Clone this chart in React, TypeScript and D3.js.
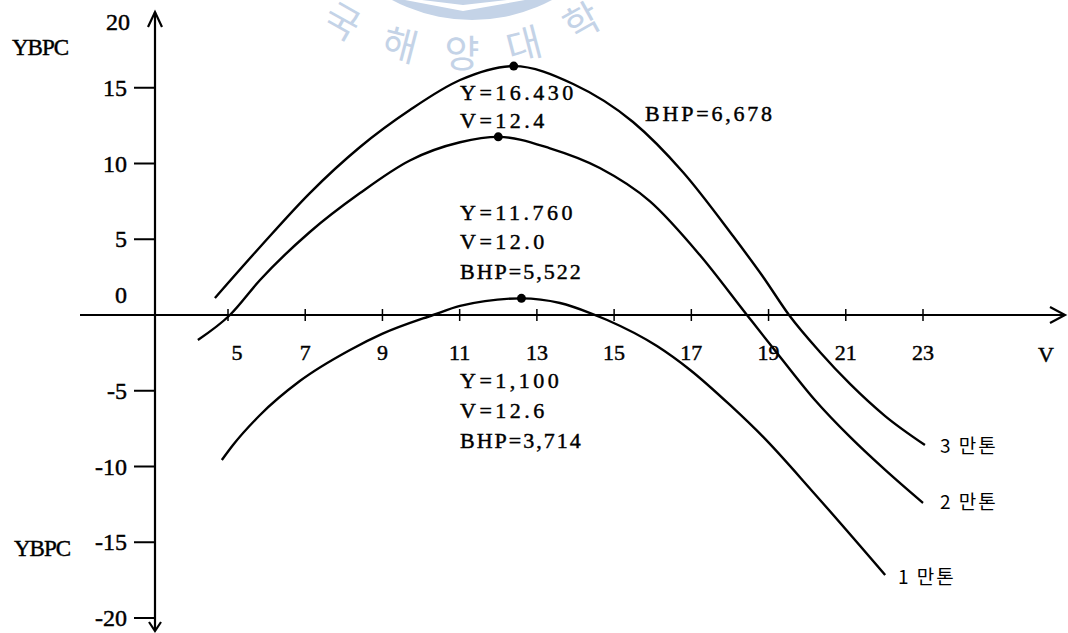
import React from "react";
import * as d3 from "d3";

// Speed V (knots) and YBPC values for each deadweight class
const v10k = [4.84, 5.13, 5.83, 6.86, 8.16, 8.99, 10.31, 11.01, 12.6, 13.6, 14.38, 14.82, 16.11, 16.97, 18.0, 18.86, 20.15, 22.02];
const y10k = [-9.57, -8.58, -6.6, -4.36, -2.31, -1.25, 0, 0.6, 1.1, 0.79, 0.13, -0.33, -2.05, -3.63, -5.94, -8.05, -11.68, -17.16];

const v20k = [4.22, 5.05, 5.83, 7.12, 8.42, 9.71, 11.01, 12.0, 13.34, 14.63, 15.93, 17.22, 18.44, 19.3, 20.2, 21.11, 22.02, 23.0];
const y20k = [-1.65, 0, 2.31, 5.48, 8.05, 10.2, 11.4, 11.76, 11.0, 9.7, 7.5, 3.96, 0, -2.77, -5.61, -8.05, -10.23, -12.41];

const v30k = [4.66, 5.83, 7.12, 8.42, 9.71, 11.01, 12.4, 13.94, 15.49, 16.78, 18.08, 18.86, 19.53, 20.33, 21.11, 22.02, 23.05];
const y30k = [1.12, 4.49, 8.05, 11.09, 13.53, 15.51, 16.43, 15.25, 12.74, 9.44, 5.21, 2.51, 0, -2.44, -4.55, -6.67, -8.58];

const seriesNames = ["1 만톤", "2 만톤", "3 만톤"];

// Optimum points
const peakV = [12.6, 12.0, 12.4];
const peakY = [1.1, 11.76, 16.43];
const peakYText = ["1,100", "11.760", "16.430"];
const peakVText = ["12.6", "12.0", "12.4"];
const bhpText = ["3,714", "5,522", "6,678"];

const xTicks = [5, 7, 9, 11, 13, 15, 17, 19, 21, 23];
const yTicks = [15, 10, 5, -5, -10, -15, -20];

const sealChars = ["국", "해", "양", "대", "학"];

const W = 1068;
const H = 633;

const serif = "'Liberation Serif', Tinos, 'Times New Roman', 'DejaVu Serif', 'Noto Serif', serif";
const kr = "'Noto Sans CJK KR', sans-serif";

export default function App() {
  const x = d3.scaleLinear().domain([5, 23]).range([228, 923]);
  const y = d3.scaleLinear().domain([-20, 20]).range([618, 12]);

  const line = d3
    .line<[number, number]>()
    .x((d) => x(d[0]))
    .y((d) => y(d[1]))
    .curve(d3.curveMonotoneX);

  const series = [
    { v: v10k, y: y10k },
    { v: v20k, y: y20k },
    { v: v30k, y: y30k },
  ].map((s) => s.v.map((vv, i) => [vv, s.y[i]] as [number, number]));

  const axisX = 155;
  const zeroY = y(0);

  // seal watermark geometry
  const sealCx = 462;
  const sealCy = -193;
  const sealR = 243;
  const sealStep = 14.6;
  const sealColor = "#c4d3e7";

  // printed text is a little heavier than the plain face
  const ink = { stroke: "#000", strokeWidth: 0.45 };
  const noteStyle = { fontFamily: serif, fontSize: 22, letterSpacing: 3.5, ...ink };
  const serifStyle = { fontFamily: serif, ...ink };

  return (
    <svg
      width={W}
      height={H}
      style={{ position: "absolute", left: 0, top: 0, background: "#fff", fontFamily: serif }}
    >
      <rect width={W} height={H} fill="#fff" />

      {/* faint seal watermark */}
      <g>
        <circle cx={472} cy={-150} r={170} fill={sealColor} />
        <path d="M405,0 L463,11 L525,0 L507,0 L463,5 L422,0 Z" fill="#fff" />
        {sealChars.map((c, i) => {
          const phi = (i - 2) * sealStep;
          const rad = (phi * Math.PI) / 180;
          const px = sealCx + sealR * Math.sin(rad);
          const py = sealCy + sealR * Math.cos(rad);
          return (
            <text
              key={c + i}
              x={px}
              y={py}
              transform={`rotate(${-phi}, ${px}, ${py})`}
              textAnchor="middle"
              dominantBaseline="central"
              style={{ fontFamily: kr }}
              fontSize={38}
              fill={sealColor}
            >
              {c}
            </text>
          );
        })}
      </g>

      {/* y axis */}
      <line x1={axisX} x2={axisX} y1={12} y2={630} stroke="#000" strokeWidth={2.2} />
      <path d={`M${axisX - 7},27 L${axisX},12 L${axisX + 7},27`} fill="none" stroke="#000" strokeWidth={2.2} />
      <path d={`M${axisX - 6},622 L${axisX},631 L${axisX + 6},622`} fill="none" stroke="#000" strokeWidth={2.2} />
      {yTicks.map((t) => (
        <g key={t}>
          <line x1={134} x2={axisX} y1={y(t)} y2={y(t)} stroke="#000" strokeWidth={2} />
          <text x={127} y={y(t) + 8} textAnchor="end" style={serifStyle} fontSize={24}>
            {t < 0 ? `-${Math.abs(t)}` : t}
          </text>
        </g>
      ))}
      <text x={130} y={30} textAnchor="end" style={serifStyle} fontSize={24}>
        20
      </text>
      <text x={127} y={303} textAnchor="end" style={serifStyle} fontSize={24}>
        0
      </text>
      <text x={12} y={55} style={serifStyle} fontSize={23} letterSpacing={-1}>
        YBPC
      </text>
      <text x={14} y={556} style={serifStyle} fontSize={23} letterSpacing={-1}>
        YBPC
      </text>

      {/* x axis */}
      <line x1={80} x2={1064} y1={zeroY} y2={zeroY} stroke="#000" strokeWidth={2.2} />
      <path d={`M1050,${zeroY - 8} L1065,${zeroY} L1050,${zeroY + 8}`} fill="none" stroke="#000" strokeWidth={2.2} />
      {xTicks.map((t) => (
        <g key={t}>
          <line x1={x(t)} x2={x(t)} y1={zeroY - 6} y2={zeroY + 6} stroke="#000" strokeWidth={1.5} />
          <text
            x={x(t) + (t === 5 ? 9 : 0)}
            y={zeroY + 45}
            textAnchor="middle"
            style={serifStyle}
            fontSize={22}
          >
            {t}
          </text>
        </g>
      ))}
      <text x={1046} y={zeroY + 47} textAnchor="middle" style={serifStyle} fontSize={22}>
        V
      </text>

      {/* curves */}
      {series.map((pts, i) => (
        <path key={i} d={line(pts) || ""} fill="none" stroke="#000" strokeWidth={2.4} />
      ))}
      {peakV.map((pv, i) => (
        <circle key={i} cx={x(pv)} cy={y(peakY[i])} r={4.5} fill="#000" />
      ))}

      {/* series labels */}
      <text x={940} y={453} style={{ fontFamily: kr }} fontSize={19} letterSpacing={2}>
        {seriesNames[2]}
      </text>
      <text x={940} y={509} style={{ fontFamily: kr }} fontSize={19} letterSpacing={2}>
        {seriesNames[1]}
      </text>
      <text x={898} y={584} style={{ fontFamily: kr }} fontSize={19} letterSpacing={2}>
        {seriesNames[0]}
      </text>

      {/* optimum annotations */}
      <g>
        <text x={460} y={100} style={noteStyle}>{`Y=${peakYText[2]}`}</text>
        <text x={460} y={128} style={noteStyle}>{`V=${peakVText[2]}`}</text>
        <text x={645} y={121} style={{ ...noteStyle, letterSpacing: 2.8 }}>{`BHP=${bhpText[2]}`}</text>

        <text x={460} y={220} style={noteStyle}>{`Y=${peakYText[1]}`}</text>
        <text x={460} y={249} style={noteStyle}>{`V=${peakVText[1]}`}</text>
        <text x={460} y={279} style={{ ...noteStyle, letterSpacing: 2 }}>{`BHP=${bhpText[1]}`}</text>

        <text x={460} y={388} style={noteStyle}>{`Y=${peakYText[0]}`}</text>
        <text x={460} y={418} style={noteStyle}>{`V=${peakVText[0]}`}</text>
        <text x={460} y={448} style={{ ...noteStyle, letterSpacing: 2 }}>{`BHP=${bhpText[0]}`}</text>
      </g>
    </svg>
  );
}
